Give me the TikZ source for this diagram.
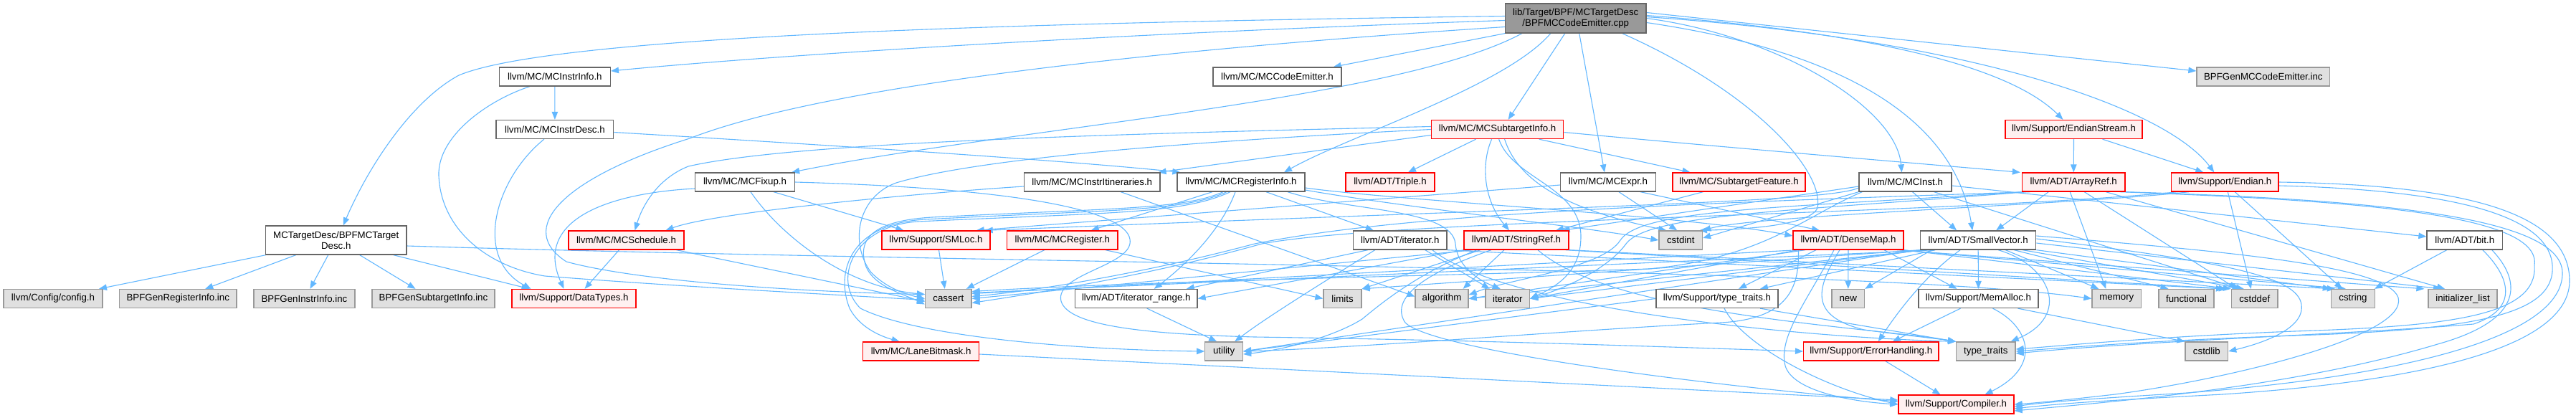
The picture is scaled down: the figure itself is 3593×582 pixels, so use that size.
\documentclass[tikz,border=0pt]{standalone}
\usepackage{fontspec}
\setmainfont{Liberation Sans}
\usetikzlibrary{arrows.meta,backgrounds}
\definecolor{eblue}{HTML}{63B8FF}
\definecolor{gborder}{HTML}{999999}
\definecolor{wborder}{HTML}{666666}
\definecolor{gfill}{HTML}{E0E0E0}
\definecolor{rfill}{HTML}{FFF0F0}
\definecolor{topfill}{HTML}{999999}
\begin{document}
\begin{tikzpicture}[x=1pt,y=-1pt,
  every node/.style={font=\fontsize{13.3pt}{15.5pt}\selectfont, inner sep=0pt, align=center},
  box/.style={draw, rectangle, line width=1.3pt, minimum height=26pt, text=black},
  wn/.style={box, draw=wborder, fill=white},
  gn/.style={box, draw=gborder, fill=gfill},
  rn/.style={box, draw=red, fill=rfill},
  tn/.style={box, draw=wborder, fill=topfill, minimum height=41pt},
  edg/.style={draw=eblue, line width=1.1pt, -{Triangle[length=11pt,width=8.5pt]}}]
\useasboundingbox (0,0) rectangle (3593,582);
% ---------- nodes
\node[tn, minimum width=196.5pt] (top) at (2197.75,25.5) {lib/Target/BPF/MCTargetDesc\\/BPFMCCodeEmitter.cpp};
\node[wn, minimum width=155pt] (iinfo) at (773.85,107) {llvm/MC/MCInstrInfo.h};
\node[wn, minimum width=179pt] (ce) at (1781.5,107) {llvm/MC/MCCodeEmitter.h};
\node[gn, minimum width=185.6pt] (gce) at (3156.8,107) {BPFGenMCCodeEmitter.inc};
\node[wn, minimum width=163.8pt] (idesc) at (773.9,180.5) {llvm/MC/MCInstrDesc.h};
\node[rn, minimum width=184.4pt] (sti) at (2088.6,180.5) {llvm/MC/MCSubtargetInfo.h};
\node[rn, minimum width=191pt] (es) at (2892.5,180.5) {llvm/Support/EndianStream.h};
\node[wn, minimum width=139pt] (fix) at (1039,254) {llvm/MC/MCFixup.h};
\node[wn, minimum width=189.3pt] (itin) at (1523.25,254) {llvm/MC/MCInstrItineraries.h};
\node[wn, minimum width=178pt] (ri) at (1731,254) {llvm/MC/MCRegisterInfo.h};
\node[rn, minimum width=124pt] (triple) at (1939,254) {llvm/ADT/Triple.h};
\node[wn, minimum width=132.6pt] (expr) at (2243,254) {llvm/MC/MCExpr.h};
\node[rn, minimum width=185pt] (sf) at (2425.5,254) {llvm/MC/SubtargetFeature.h};
\node[wn, minimum width=129pt] (inst) at (2657.5,254) {llvm/MC/MCInst.h};
\node[rn, minimum width=143.5pt] (ar) at (2892.25,254) {llvm/ADT/ArrayRef.h};
\node[rn, minimum width=149.4pt] (endian) at (3103.3,254) {llvm/Support/Endian.h};
\node[wn, minimum width=196.5pt, minimum height=40pt] (td) at (468.75,335) {MCTargetDesc/BPFMCTarget\\Desc.h};
\node[rn, minimum width=161pt] (sched) at (873.5,335) {llvm/MC/MCSchedule.h};
\node[rn, minimum width=151pt] (smloc) at (1305.5,335) {llvm/Support/SMLoc.h};
\node[rn, minimum width=154.5pt] (reg) at (1481.75,335) {llvm/MC/MCRegister.h};
\node[wn, minimum width=130.5pt] (iterh) at (1952.75,335) {llvm/ADT/iterator.h};
\node[rn, minimum width=146pt] (sr) at (2115,335) {llvm/ADT/StringRef.h};
\node[gn, minimum width=60.5pt] (cstdint) at (2344.25,335) {cstdint};
\node[rn, minimum width=154pt] (dm) at (2578,335) {llvm/ADT/DenseMap.h};
\node[wn, minimum width=161pt] (sv) at (2759.15,335) {llvm/ADT/SmallVector.h};
\node[wn, minimum width=105.5pt] (bit) at (3437.75,335) {llvm/ADT/bit.h};
\node[gn, minimum width=138pt] (cfg) at (74,416.5) {llvm/Config/config.h};
\node[gn, minimum width=163.5pt] (gri) at (248.25,416.5) {BPFGenRegisterInfo.inc};
\node[gn, minimum width=141pt] (gii) at (424.5,416.5) {BPFGenInstrInfo.inc};
\node[gn, minimum width=171pt] (gsi) at (604.5,416.5) {BPFGenSubtargetInfo.inc};
\node[rn, minimum width=173pt] (dt) at (800.5,416.5) {llvm/Support/DataTypes.h};
\node[gn, minimum width=64.4pt] (cassert) at (1322.8,416.5) {cassert};
\node[wn, minimum width=170.5pt] (ir) at (1584.75,416.5) {llvm/ADT/iterator\_range.h};
\node[gn, minimum width=53pt] (limits) at (1872.5,416.5) {limits};
\node[gn, minimum width=74pt] (algo) at (2011,416.5) {algorithm};
\node[gn, minimum width=61.5pt] (iter) at (2102.75,416.5) {iterator};
\node[wn, minimum width=170pt] (tth) at (2395,416.5) {llvm/Support/type\_traits.h};
\node[gn, minimum width=45.5pt] (new) at (2577.75,416.5) {new};
\node[wn, minimum width=167pt] (ma) at (2759.5,416.5) {llvm/Support/MemAlloc.h};
\node[gn, minimum width=68.6pt] (memory) at (2952.3,416.5) {memory};
\node[gn, minimum width=77pt] (functional) at (3049.5,416.5) {functional};
\node[gn, minimum width=64.5pt] (cstddef) at (3144.75,416.5) {cstddef};
\node[gn, minimum width=61pt] (cstring) at (3281.95,416.5) {cstring};
\node[gn, minimum width=96pt] (il) at (3435,416.5) {initializer\_list};
\node[rn, minimum width=162pt] (lb) at (1284.6,490) {llvm/MC/LaneBitmask.h};
\node[gn, minimum width=52.7pt] (utility) at (1707.15,490) {utility};
\node[rn, minimum width=188.4pt] (eh) at (2609.8,490) {llvm/Support/ErrorHandling.h};
\node[gn, minimum width=82.4pt] (tt) at (2769.8,490) {type\_traits};
\node[gn, minimum width=59.6pt] (cstdlib) at (3077.8,490) {cstdlib};
\node[rn, minimum width=161pt] (comp) at (2728.5,564) {llvm/Support/Compiler.h};
% ---------- edges
\begin{scope}[on background layer]
\fill[white] (0,0) rectangle (3593,582);
% top
\draw[edg] ([yshift=3pt]top.west) .. controls (1300,33) and (760,55) .. (640,105) .. controls (575,140) and (515,230) .. ([xshift=10pt]td.north);
\draw[edg] ([yshift=-3pt]top.west) .. controls (1600,45) and (1100,75) .. ([yshift=8pt]iinfo.east);
\draw[edg] (top.south west) -- ([xshift=-12pt]ce.north east);
\draw[edg] ([yshift=-12pt]top.west) .. controls (1600,70) and (1150,120) .. (962,193) .. controls (780,250) and (720,320) .. (790,365) .. controls (900,395) and (1150,408) .. ([yshift=6pt]cassert.west);
\draw[edg] ([xshift=-75pt]top.south) .. controls (1950,140) and (1400,180) .. ([xshift=-5pt]fix.north east);
\draw[edg] ([xshift=-35pt]top.south) .. controls (2100,120) and (1880,190) .. ([xshift=60pt]ri.north);
\draw[edg] ([xshift=-15pt]top.south) -- ([xshift=15pt]sti.north);
\draw[edg] ([xshift=5pt]top.south) -- ([xshift=-5pt]expr.north);
\draw[edg] ([xshift=65pt]top.south) .. controls (2450,130) and (2545,240) .. (2535,290) .. controls (2525,315) and (2430,320) .. ([xshift=-5pt]cstdint.north east);
\draw[edg] (top.east) .. controls (2480,50) and (2645,150) .. ([xshift=-5pt]inst.north);
\draw[edg] ([yshift=-6pt]top.east) .. controls (2560,70) and (2725,160) .. ([xshift=-8pt]sv.north);
\draw[edg] ([yshift=4pt]top.east) .. controls (2600,45) and (2800,90) .. ([xshift=-15pt]es.north);
\draw[edg] ([yshift=2pt]top.east) .. controls (2750,55) and (3020,150) .. ([xshift=-15pt]endian.north);
\draw[edg] ([yshift=8pt]top.east) -- ([yshift=8pt]gce.west);
% MCTargetDesc
\draw[edg] ([xshift=-98pt]td.south) -- ([xshift=64pt]cfg.north);
\draw[edg] ([xshift=-56pt]td.south) -- ([xshift=38pt]gri.north);
\draw[edg] ([xshift=-11pt]td.south) -- ([xshift=8pt]gii.north);
\draw[edg] ([xshift=33pt]td.south) -- ([xshift=-25pt]gsi.north);
\draw[edg] ([xshift=80pt]td.south) -- ([xshift=-62pt]dt.north);
\draw[edg] ([yshift=-8pt]td.east) .. controls (1400,368) and (2600,372) .. (memory.west);
% MCInstrInfo / MCInstrDesc
\draw[edg] (iinfo.south) -- (idesc.north);
\draw[edg] ([xshift=-35pt]iinfo.south) .. controls (680,140) and (610,190) .. (612,245) .. controls (615,320) and (680,372) .. (760,385) .. controls (950,400) and (1150,410) .. ([yshift=-2pt]cassert.west);
\draw[edg] ([xshift=-15pt]idesc.south) .. controls (690,250) and (660,360) .. ([xshift=-60pt]dt.north);
\draw[edg] ([yshift=-4pt]idesc.east) .. controls (1200,205) and (1500,225) .. ([xshift=5pt]ri.north west);
% MCFixup
\draw[edg] ([yshift=-9pt]fix.west) .. controls (840,270) and (745,310) .. ([xshift=-14pt]dt.north);
\draw[edg] ([xshift=40pt]fix.south) -- ([xshift=-45pt]smloc.north);
\draw[edg] ([xshift=8pt]fix.south) .. controls (1090,330) and (1180,400) .. ([yshift=6pt]cassert.west);
\draw[edg] (fix.east) .. controls (1400,262) and (1560,290) .. (1575,330) .. controls (1590,370) and (1470,380) .. (1480,420) .. controls (1490,455) and (1600,466) .. (1750,470) .. controls (2100,475) and (2350,485) .. (eh.west);
% MCSchedule, SMLoc, MCRegister
\draw[edg] ([xshift=-10pt]sched.south) -- ([xshift=15pt]dt.north);
\draw[edg] ([xshift=70pt]sched.south) -- ([yshift=-4pt]cassert.west);
\draw[edg] ([xshift=4pt]smloc.south) -- ([xshift=-5pt]cassert.north);
\draw[edg] ([xshift=-25pt]reg.south) -- ([xshift=25pt]cassert.north);
\draw[edg] ([xshift=60pt]reg.south) -- (limits.west);
% MCRegisterInfo
\draw[edg] ([xshift=-40pt]ri.south) -- ([xshift=40pt]reg.north);
\draw[edg] ([xshift=-8pt]ri.south) .. controls (1700,330) and (1640,380) .. ([xshift=25pt]ir.north);
\draw[edg] ([xshift=35pt]ri.south) -- ([xshift=-37pt]iterh.north);
\draw[edg] ([xshift=-25pt]ri.south) .. controls (1650,292) and (1560,290) .. (1300,303) .. controls (1215,308) and (1195,335) .. (1208,372) .. controls (1220,400) and (1260,410) .. ([yshift=-8pt]cassert.west);
\draw[edg] ([xshift=-20pt]ri.south) .. controls (1650,295) and (1560,292) .. (1290,306) .. controls (1185,312) and (1165,380) .. (1185,430) .. controls (1198,455) and (1225,468) .. ([xshift=-30pt]lb.north);
\draw[edg] ([xshift=-15pt]ri.south) .. controls (1650,298) and (1560,296) .. (1280,309) .. controls (1190,315) and (1160,390) .. (1200,430) .. controls (1280,470) and (1500,488) .. (utility.west);
\draw[edg] ([yshift=-8pt]ri.east) .. controls (1950,280) and (2350,300) .. ([yshift=6pt]dm.west);
\draw[edg] ([yshift=-11pt]ri.east) .. controls (1950,288) and (2200,315) .. (cstdint.west);
\draw[edg] ([xshift=65pt]ri.south) .. controls (1880,295) and (2025,290) .. (2030,340) .. controls (2032,370) and (2060,390) .. ([xshift=-10pt]iter.north);
% MCInstrItineraries
\draw[edg] ([yshift=-6pt]itin.west) .. controls (1300,268) and (1000,295) .. ([xshift=55pt]sched.north);
\draw[edg] ([xshift=40pt]itin.south) -- ([yshift=3pt]algo.west);
% MCSubtargetInfo
\draw[edg] ([yshift=-8pt]sti.west) -- ([xshift=-3pt]itin.north east);
\draw[edg] ([yshift=4pt]sti.west) .. controls (1500,188) and (1100,200) .. (960,232) .. controls (915,250) and (895,290) .. ([xshift=12pt]sched.north);
\draw[edg] (sti.west) .. controls (1600,200) and (1350,225) .. (1250,255) .. controls (1195,275) and (1185,340) .. (1215,380) .. controls (1240,405) and (1270,412) .. (cassert.west);
\draw[edg] ([xshift=-30pt]sti.south) -- ([xshift=25pt]triple.north);
\draw[edg] ([xshift=-8pt]sti.south) .. controls (2065,230) and (2070,280) .. ([xshift=-10pt]sr.north);
\draw[edg] ([xshift=2pt]sti.south) .. controls (2110,250) and (2205,260) .. (2205,330) .. controls (2205,380) and (2170,400) .. (iter.east);
\draw[edg] ([xshift=10pt]sti.south) .. controls (2120,260) and (2200,295) .. ([xshift=-20pt]cstdint.north);
\draw[edg] ([xshift=58pt]sti.south) -- ([xshift=-68pt]sf.north);
\draw[edg] ([yshift=-4pt]sti.east) .. controls (2400,205) and (2700,230) .. ([xshift=-2pt]ar.north west);
% EndianStream
\draw[edg] (es.south) -- (ar.north);
\draw[edg] ([xshift=40pt]es.south) -- ([xshift=-30pt]endian.north);
% MCExpr, SubtargetFeature
\draw[edg] ([yshift=-4pt]expr.west) -- ([xshift=-20pt]smloc.north east);
\draw[edg] ([xshift=15pt]expr.south) -- ([xshift=-5pt]cstdint.north);
\draw[edg] ([xshift=45pt]expr.south) -- ([xshift=-40pt]dm.north);
\draw[edg] ([xshift=-50pt]sf.south) -- ([xshift=55pt]sr.north);
% MCInst
\draw[edg] ([xshift=10pt]inst.south) -- ([xshift=-30pt]sv.north);
\draw[edg] ([yshift=-5pt]inst.east) -- ([yshift=5pt]bit.west);
\draw[edg] ([yshift=-6pt]inst.west) -- ([xshift=-10pt]sr.north east);
\draw[edg] ([yshift=-8pt]inst.west) .. controls (2550,282) and (2200,288) .. ([xshift=-8pt]smloc.north east);
\draw[edg] ([xshift=5pt]inst.south west) .. controls (2520,300) and (2460,360) .. (2300,375) .. controls (2000,385) and (1600,392) .. ([yshift=10pt]cassert.east);
\draw[edg] (inst.south west) -- ([yshift=3pt]cstdint.east);
\draw[edg] ([xshift=40pt]inst.south) -- ([xshift=-20pt]cstddef.north);
% ArrayRef
\draw[edg] ([xshift=-35pt]ar.south) -- ([xshift=25pt]sv.north);
\draw[edg] ([xshift=-5pt]ar.south) -- ([xshift=-15pt]memory.north);
\draw[edg] ([xshift=15pt]ar.south) -- ([xshift=-25pt]cstddef.north);
\draw[edg] ([xshift=45pt]ar.south) -- ([xshift=-25pt]il.north);
\draw[edg] (ar.south west) .. controls (2500,290) and (2290,290) .. (2260,335) .. controls (2235,375) and (2100,390) .. ([yshift=5pt]algo.east);
\draw[edg] ([xshift=6pt]ar.south west) .. controls (2500,295) and (2300,298) .. (2268,340) .. controls (2245,372) and (2190,400) .. (iter.east);
\draw[edg] ([xshift=12pt]ar.south west) .. controls (2300,285) and (1950,300) .. (1750,340) .. controls (1600,380) and (1450,405) .. ([yshift=3pt]cassert.east);
\draw[edg] (ar.south east) .. controls (3300,278) and (3572,300) .. (3574,380) .. controls (3576,470) and (3350,525) .. (3050,548) .. controls (2920,556) and (2860,560) .. ([yshift=-3pt]comp.east);
\draw[edg] ([xshift=-8pt]ar.south east) .. controls (3300,280) and (3545,300) .. (3535,370) .. controls (3540,440) and (3420,455) .. (3200,462) .. controls (3000,470) and (2880,482) .. ([yshift=3pt]tt.east);
% Endian
\draw[edg] ([xshift=10pt]endian.south west) .. controls (2700,300) and (1950,305) .. (1760,340) .. controls (1600,385) and (1450,408) .. ([yshift=-6pt]cassert.east);
\draw[edg] ([xshift=-50pt]endian.south) .. controls (2900,285) and (2450,300) .. (cstdint.north east);
\draw[edg] ([xshift=4pt]endian.south) -- ([xshift=-5pt]cstddef.north);
\draw[edg] ([xshift=14pt]endian.south) -- ([xshift=-15pt]cstring.north);
\draw[edg] (endian.east) .. controls (3450,258) and (3582,300) .. (3584,390) .. controls (3586,480) and (3400,530) .. (3100,550) .. controls (2950,558) and (2880,562) .. ([yshift=-6pt]comp.east);
\draw[edg] ([yshift=-5pt]endian.east) .. controls (3420,265) and (3555,300) .. (3560,370) .. controls (3565,440) and (3450,460) .. (3200,468) .. controls (3000,475) and (2880,485) .. (tt.east);
% bit.h
\draw[edg] ([xshift=-25pt]bit.south) -- ([xshift=30pt]cstring.north);
\draw[edg] ([xshift=38pt]bit.south) .. controls (3515,390) and (3525,445) .. (3400,480) .. controls (3200,540) and (2950,560) .. ([yshift=-9pt]comp.east);
\draw[edg] ([xshift=25pt]bit.south) .. controls (3500,385) and (3515,430) .. (3450,452) .. controls (3300,465) and (3000,475) .. ([yshift=-3pt]tt.east);
% DenseMap
\draw[edg] ([xshift=-45pt]dm.south) -- ([xshift=30pt]tth.north);
\draw[edg] (dm.south) -- (new.north);
\draw[edg] ([xshift=50pt]dm.south) -- ([xshift=-30pt]ma.north);
\draw[edg] ([xshift=-12pt]dm.south) .. controls (2535,400) and (2520,440) .. (2600,460) .. controls (2660,468) and (2700,472) .. (tt.north west);
\draw[edg] ([xshift=-20pt]dm.south) .. controls (2520,420) and (2480,470) .. (2490,510) .. controls (2500,545) and (2580,560) .. (comp.west);
\draw[edg] ([xshift=-60pt]dm.south) -- (algo.east);
\draw[edg] ([xshift=8pt]dm.south west) -- (iter.east);
\draw[edg] ([xshift=-70pt]dm.south) -- ([yshift=7pt]cassert.east);
\draw[edg] ([xshift=8pt]dm.south west) .. controls (2510,400) and (2495,445) .. (2400,450) .. controls (2200,460) and (1900,485) .. (utility.east);
\draw[edg] (dm.south east) -- (cstddef.north west);
\draw[edg] ([xshift=-5pt]dm.south east) -- ([xshift=-10pt]cstring.north);
\draw[edg] ([xshift=-10pt]dm.south east) -- ([xshift=-5pt]il.north west);
% SmallVector
\draw[edg] (sv.south) -- (ma.north);
\draw[edg] ([xshift=-60pt]sv.south) -- ([xshift=60pt]tth.north);
\draw[edg] ([xshift=-25pt]sv.south) .. controls (2690,380) and (2650,430) .. ([xshift=10pt]eh.north);
\draw[edg] ([xshift=28pt]sv.south) .. controls (2860,370) and (2890,440) .. ([xshift=35pt]tt.north);
\draw[edg] ([xshift=38pt]sv.south) -- ([xshift=-25pt]memory.north);
\draw[edg] ([xshift=50pt]sv.south) -- ([xshift=-25pt]functional.north);
\draw[edg] ([xshift=62pt]sv.south) -- ([xshift=-15pt]cstddef.north);
\draw[edg] (sv.south east) -- (cstring.north west);
\draw[edg] ([yshift=-4pt]sv.east) -- ([xshift=-30pt]il.north);
\draw[edg] ([yshift=2pt]sv.east) .. controls (3100,365) and (3205,385) .. (3210,425) .. controls (3215,460) and (3150,480) .. (cstdlib.east);
\draw[edg] ([yshift=6pt]sv.east) .. controls (3100,350) and (3330,370) .. (3345,415) .. controls (3360,470) and (3100,530) .. (2950,550) .. controls (2880,558) and (2840,562) .. (comp.east);
\draw[edg] ([xshift=-65pt]sv.south) -- (new.north east);
\draw[edg] ([xshift=-75pt]sv.south) -- (algo.east);
\draw[edg] ([xshift=-78pt]sv.south) -- (iter.east);
\draw[edg] (sv.south west) -- (limits.north east);
\draw[edg] (sv.south west) -- (utility.east);
\draw[edg] ([xshift=-60pt]sv.south) -- ([yshift=8pt]cassert.east);
% StringRef
\draw[edg] ([xshift=-17pt]sr.south) -- ([xshift=-8pt]algo.north east);
\draw[edg] (sr.south west) -- (ir.east);
\draw[edg] ([xshift=-60pt]sr.south) -- (cassert.east);
\draw[edg] ([xshift=-50pt]sr.south) -- (limits.north east);
\draw[edg] ([xshift=-55pt]sr.south) .. controls (1980,380) and (1930,420) .. (1900,445) .. controls (1860,470) and (1790,488) .. ([yshift=-4pt]utility.east);
\draw[edg] ([xshift=-35pt]sr.south) .. controls (1975,385) and (1940,420) .. (1960,450) .. controls (2000,490) and (2400,540) .. ([yshift=4pt]comp.west);
\draw[edg] ([xshift=-5pt]sr.south east) -- ([xshift=-6pt]cstddef.north west);
\draw[edg] (sr.south east) -- ([xshift=6pt]cstring.north west);
\draw[edg] ([xshift=30pt]sr.south) .. controls (2250,440) and (2600,455) .. (tt.north west);
% iterator.h, iterator_range
\draw[edg] ([xshift=-45pt]iterh.south) -- ([xshift=70pt]ir.north);
\draw[edg] ([xshift=-35pt]iterh.south) .. controls (1860,385) and (1770,440) .. ([xshift=15pt]utility.north);
\draw[edg] ([xshift=35pt]iterh.south) -- ([xshift=-25pt]iter.north);
\draw[edg] (iterh.south east) -- ([xshift=-10pt]cstddef.north west);
\draw[edg] ([xshift=45pt]iterh.south) .. controls (2100,430) and (2500,470) .. (tt.north west);
\draw[edg] ([xshift=15pt]ir.south) -- ([xshift=-10pt]utility.north);
% type_traits.h
\draw[edg] ([xshift=60pt]tth.south) -- (tt.north west);
\draw[edg] (tth.west) -- (utility.east);
\draw[edg] ([xshift=10pt]tth.south) .. controls (2430,480) and (2540,540) .. (comp.west);
% MemAlloc, ErrorHandling, LaneBitmask
\draw[edg] ([xshift=-25pt]ma.south) -- ([xshift=30pt]eh.north);
\draw[edg] ([xshift=20pt]ma.south) .. controls (2830,455) and (2850,510) .. ([xshift=40pt]comp.north);
\draw[edg] ([xshift=55pt]ma.south) -- (cstdlib.north west);
\draw[edg] ([xshift=20pt]eh.south) -- ([xshift=-22pt]comp.north);
\draw[edg] ([yshift=-4pt]lb.east) -- ([yshift=6pt]comp.west);
\end{scope}
\end{tikzpicture}
\end{document}
